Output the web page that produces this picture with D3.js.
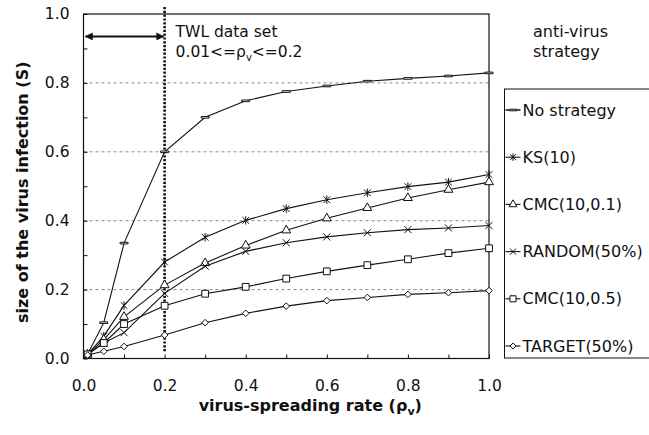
<!DOCTYPE html>
<html>
<head>
<meta charset="utf-8">
<script src="https://cdn.jsdelivr.net/npm/d3@7"></script>
<style>
  body { margin: 0; background: #fff; }
  text { font-family: "DejaVu Sans", sans-serif; fill: #111; }
  .tick line { stroke: #111; }
  .domain { display: none; }
  .grid line { stroke: #8a8a8a; stroke-dasharray: 3,3; }
  .series path.line { fill: none; stroke: #111; stroke-width: 1.1; }
  .marker { fill: #fff; stroke: #111; stroke-width: 1; }
</style>
</head>
<body>
<div id="chart"></div>
<script>

// virus-spreading rate (x)
var rates = [0.01, 0.05, 0.1, 0.2, 0.3, 0.4, 0.5, 0.6, 0.7, 0.8, 0.9, 1.0]

// size of the virus infection (S), one list per strategy
var noStrategy = [0.012, 0.104, 0.335, 0.600, 0.700, 0.748, 0.775, 0.791, 0.805, 0.813, 0.820, 0.829]
var ks10 = [0.012, 0.065, 0.154, 0.280, 0.352, 0.401, 0.435, 0.461, 0.481, 0.499, 0.512, 0.534]
var cmc10_01 = [0.012, 0.055, 0.121, 0.213, 0.277, 0.328, 0.372, 0.407, 0.437, 0.466, 0.490, 0.512]
var random50 = [0.012, 0.045, 0.075, 0.189, 0.268, 0.311, 0.336, 0.353, 0.365, 0.374, 0.379, 0.386]
var cmc10_05 = [0.012, 0.045, 0.100, 0.153, 0.188, 0.208, 0.232, 0.253, 0.271, 0.288, 0.306, 0.320]
var target50 = [0.010, 0.021, 0.035, 0.068, 0.104, 0.131, 0.152, 0.168, 0.177, 0.186, 0.191, 0.197]

var seriesNames = ["No strategy", "KS(10)", "CMC(10,0.1)", "RANDOM(50%)", "CMC(10,0.5)", "TARGET(50%)"]

var xTickLabels = ["0.0", "0.2", "0.4", "0.6", "0.8", "1.0"]
var yTickLabels = ["0.0", "0.2", "0.4", "0.6", "0.8", "1.0"]
var minorTicks = [0, 0.1, 0.2, 0.3, 0.4, 0.5, 0.6, 0.7, 0.8, 0.9, 1.0]
var gridValues = [0.2, 0.4, 0.6, 0.8]

// TWL data set range
var twlRange = [0.01, 0.2]

var WIDTH = 649, HEIGHT = 435
var m = [14, 160, 76.5, 83.5] // top right bottom left
var w = WIDTH - m[1] - m[3],
    h = HEIGHT - m[0] - m[2]

// short dash marker for "No strategy"
var symbolDash = {
    draw: function (ctx, size) {
        var r = Math.sqrt(size) / 2
        ctx.moveTo(-r, -0.8)
        ctx.lineTo(r, -0.8)
        ctx.lineTo(r, 0.8)
        ctx.lineTo(-r, 0.8)
        ctx.closePath()
    }
}

// asterisk: a cross with a vertical bar
var symbolStar = {
    draw: function (ctx, size) {
        var r = Math.sqrt(size) / 2
        var d = r * 0.8
        ctx.moveTo(0, -r)
        ctx.lineTo(0, r)
        ctx.moveTo(-d, -d)
        ctx.lineTo(d, d)
        ctx.moveTo(-d, d)
        ctx.lineTo(d, -d)
    }
}

var markerTypes = [
    { type: symbolDash, size: 64, fill: "#111" },
    { type: symbolStar, size: 70, fill: "none" },
    { type: d3.symbolTriangle, size: 34, fill: "#fff" },
    { type: d3.symbolTimes, size: 34, fill: "none" },
    { type: d3.symbolSquare, size: 46, fill: "#fff" },
    { type: d3.symbolDiamond2, size: 28, fill: "#fff" }
]

var seriesValues = [noStrategy, ks10, cmc10_01, random50, cmc10_05, target50]

var series = seriesNames.map(function (name, i) {
    return {
        name: name,
        marker: markerTypes[i],
        points: rates.map(function (r, j) {
            return { x: r, y: seriesValues[i][j] }
        })
    }
})

var x = d3.scaleLinear().domain([0, 1]).range([0, w])
var y = d3.scaleLinear().domain([0, 1]).range([h, 0])

var svg = d3.select("#chart")
    .append("svg")
    .attr("width", WIDTH)
    .attr("height", HEIGHT)

svg.append("rect")
    .attr("width", WIDTH)
    .attr("height", HEIGHT)
    .attr("fill", "#fff")

var main = svg.append("g")
    .attr("transform", "translate(" + m[3] + "," + m[0] + ")")

// dashed gridlines
main.append("g")
    .attr("class", "grid")
    .selectAll("line")
    .data(gridValues)
    .enter()
    .append("line")
    .attr("x1", 0)
    .attr("x2", w)
    .attr("y1", function (d) { return y(d) })
    .attr("y2", function (d) { return y(d) })

// frame
main.append("rect")
    .attr("width", w)
    .attr("height", h)
    .attr("fill", "none")
    .attr("stroke", "#111")
    .attr("stroke-width", 1.2)

// minor inward ticks
main.append("g")
    .call(d3.axisLeft(y).tickValues(minorTicks).tickSize(-4).tickFormat(""))
main.append("g")
    .attr("transform", "translate(0," + h + ")")
    .call(d3.axisBottom(x).tickValues(minorTicks).tickSize(-4).tickFormat(""))

// tick labels
main.append("g")
    .call(d3.axisLeft(y)
        .tickValues(yTickLabels.map(Number))
        .tickSize(0)
        .tickPadding(14)
        .tickFormat(function (d, i) { return yTickLabels[i] }))
    .selectAll("text")
    .attr("font-size", 15.5)
    .attr("font-family", "DejaVu Sans, sans-serif")

main.append("g")
    .attr("transform", "translate(0," + h + ")")
    .call(d3.axisBottom(x)
        .tickValues(xTickLabels.map(Number))
        .tickSize(0)
        .tickPadding(21)
        .tickFormat(function (d, i) { return xTickLabels[i] }))
    .selectAll("text")
    .attr("font-size", 15.5)
    .attr("font-family", "DejaVu Sans, sans-serif")

// TWL data set marker line
main.append("line")
    .attr("x1", x(twlRange[1]))
    .attr("x2", x(twlRange[1]))
    .attr("y1", -7)
    .attr("y2", h - 6)
    .attr("stroke", "#111")
    .attr("stroke-width", 2.6)
    .attr("stroke-dasharray", "2.2,1.6")

var defs = svg.append("defs")
defs.append("marker")
    .attr("id", "arrow")
    .attr("viewBox", "0 0 10 10")
    .attr("refX", 9)
    .attr("refY", 5)
    .attr("markerWidth", 10)
    .attr("markerHeight", 8)
    .attr("markerUnits", "userSpaceOnUse")
    .attr("orient", "auto-start-reverse")
    .append("path")
    .attr("d", "M0,0L10,5L0,10Z")
    .attr("fill", "#111")

main.append("line")
    .attr("x1", x(twlRange[0]) - 2)
    .attr("x2", x(twlRange[1]) - 1)
    .attr("y1", y(0.935))
    .attr("y2", y(0.935))
    .attr("stroke", "#111")
    .attr("stroke-width", 2)
    .attr("marker-start", "url(#arrow)")
    .attr("marker-end", "url(#arrow)")

main.append("text")
    .attr("x", x(twlRange[1]) + 11)
    .attr("y", y(0.935) + 1)
    .attr("font-size", 15.5)
    .text("TWL data set")

var twlRangeText = main.append("text")
    .attr("x", x(twlRange[1]) + 11)
    .attr("y", y(0.935) + 21)
    .attr("font-size", 15.5)
twlRangeText.append("tspan").text(twlRange[0] + "<=\u03C1")
twlRangeText.append("tspan").attr("font-size", 10).attr("dy", 4).text("v")
twlRangeText.append("tspan").attr("dy", -4).text("<=" + twlRange[1])

// series lines and markers
var line = d3.line()
    .x(function (d) { return x(d.x) })
    .y(function (d) { return y(d.y) })

var sGroups = main.selectAll(".series")
    .data(series)
    .enter()
    .append("g")
    .attr("class", "series")

sGroups.append("path")
    .attr("class", "line")
    .attr("stroke-width", function (d, i) { return i === 0 ? 1.5 : 1.1 })
    .attr("d", function (d) { return line(d.points) })

sGroups.each(function (s) {
    d3.select(this).selectAll(".marker")
        .data(s.points)
        .enter()
        .append("path")
        .attr("class", "marker")
        .attr("fill", s.marker.fill)
        .attr("transform", function (d) {
            return "translate(" + x(d.x) + "," + y(d.y) + ")"
        })
        .attr("d", d3.symbol().type(s.marker.type).size(s.marker.size))
})

// axis titles
svg.append("text")
    .attr("transform", "translate(22," + (m[0] + h / 2 + 6) + ") rotate(-90)")
    .attr("text-anchor", "middle")
    .attr("dy", "0.35em")
    .attr("font-size", 16)
    .attr("font-weight", "bold")
    .text("size of the virus infection (S)")

var xTitle = svg.append("text")
    .attr("x", m[3] + w / 2 + 24)
    .attr("y", 411)
    .attr("text-anchor", "middle")
    .attr("font-size", 16)
    .attr("font-weight", "bold")
xTitle.append("tspan").text("virus-spreading rate (\u03C1")
xTitle.append("tspan").attr("font-size", 11).attr("dy", 4).text("v")
xTitle.append("tspan").attr("dy", -4).text(")")

// legend
var legendTitle = svg.append("text")
    .attr("x", 533)
    .attr("y", 37)
    .attr("font-size", 16)
legendTitle.append("tspan").attr("x", 533).text("anti-virus")
legendTitle.append("tspan").attr("x", 533).attr("dy", 20).text("strategy")

var legend = svg.append("g")
    .attr("transform", "translate(504.5,89)")

legend.append("rect")
    .attr("width", 200)
    .attr("height", 269)
    .attr("fill", "#fff")
    .attr("stroke", "#111")
    .attr("stroke-width", 1)

var items = legend.selectAll(".item")
    .data(series)
    .enter()
    .append("g")
    .attr("class", "item")
    .attr("transform", function (d, i) {
        return "translate(0," + (21 + i * 47.2) + ")"
    })

items.append("line")
    .attr("x1", 1)
    .attr("x2", 16)
    .attr("stroke", "#111")
    .attr("stroke-width", function (d, i) { return i === 0 ? 1.5 : 1.1 })

items.append("path")
    .attr("class", "marker")
    .attr("fill", function (d) { return d.marker.fill })
    .attr("transform", "translate(8.5,0)")
    .attr("d", function (d) {
        return d3.symbol().type(d.marker.type).size(d.marker.size * 0.8)()
    })

items.append("text")
    .attr("x", 18)
    .attr("dy", "0.35em")
    .attr("font-size", 16)
    .text(function (d) { return d.name })

</script>
</body>
</html>
